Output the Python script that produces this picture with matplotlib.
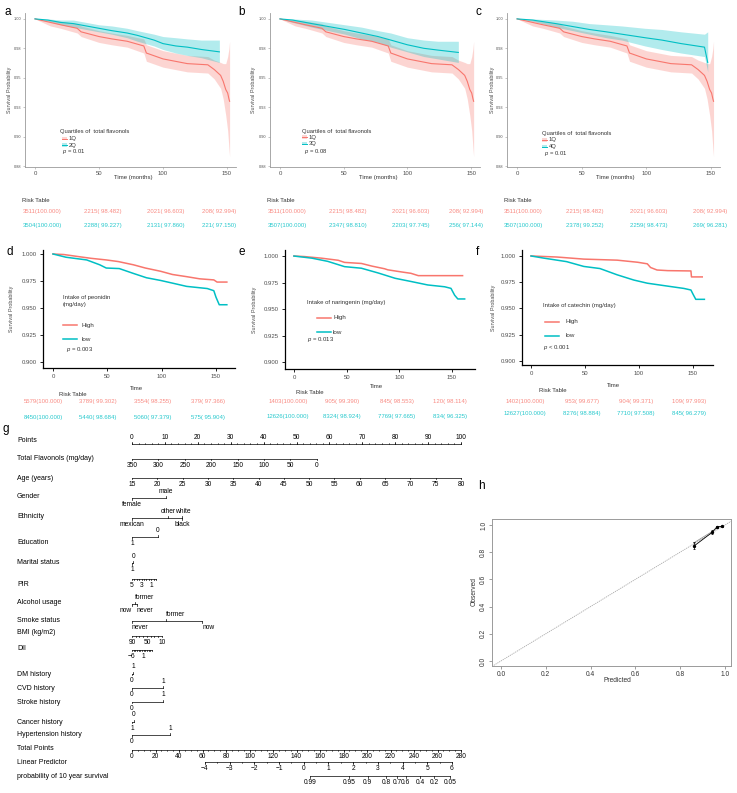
import numpy as np
import matplotlib
matplotlib.use('Agg')
import matplotlib.pyplot as plt
from matplotlib.patches import Rectangle
from matplotlib.lines import Line2D

plt.rcParams['font.family'] = ['Liberation Sans', 'DejaVu Sans']
plt.rcParams['mathtext.fontset'] = 'custom'
plt.rcParams['mathtext.rm'] = 'Liberation Sans'
plt.rcParams['mathtext.it'] = 'Liberation Sans:italic'

RED = '#F8766D'
TEAL = '#00BFC4'

# ======================= DATA =======================
# --- panels a-c : quartiles of total flavonols (1Q reference curve) ---
q1_t  = [0, 12, 20, 33, 36, 50, 60, 72, 85, 87, 100, 119, 135, 140, 145, 147, 149, 150.5, 151.5, 152]
q1_s  = [1.0, 0.997, 0.995, 0.992, 0.989, 0.985, 0.983, 0.981, 0.977, 0.971, 0.966, 0.962, 0.961, 0.957, 0.952, 0.947, 0.940, 0.937, 0.932, 0.930]
q1_hi = [1.0, 0.999, 0.998, 0.996, 0.994, 0.990, 0.988, 0.986, 0.983, 0.978, 0.973, 0.969, 0.968, 0.965, 0.963, 0.962, 0.962, 0.968, 0.975, 0.981]
q1_lo = [1.0, 0.994, 0.992, 0.988, 0.985, 0.980, 0.978, 0.976, 0.971, 0.964, 0.959, 0.955, 0.954, 0.949, 0.941, 0.932, 0.918, 0.905, 0.890, 0.883]

q2_t  = [0, 10, 20, 30, 40, 50, 60, 72, 80, 93, 100, 110, 119, 130, 144]
q2_s  = [1.0, 0.999, 0.997, 0.996, 0.994, 0.992, 0.990, 0.988, 0.986, 0.982, 0.979, 0.977, 0.976, 0.974, 0.972]
q2_hi = [1.0, 1.0, 0.999, 0.999, 0.997, 0.995, 0.994, 0.992, 0.990, 0.987, 0.985, 0.984, 0.983, 0.982, 0.982]
q2_lo = [1.0, 0.998, 0.995, 0.993, 0.991, 0.989, 0.987, 0.984, 0.981, 0.977, 0.974, 0.971, 0.969, 0.967, 0.963]

q3_t  = [0, 10, 25, 38, 51, 64, 77, 87, 100, 113, 124, 140]
q3_s  = [1.0, 0.999, 0.996, 0.9935, 0.991, 0.988, 0.985, 0.982, 0.978, 0.975, 0.9735, 0.9715]
q3_hi = [1.0, 1.0, 0.999, 0.997, 0.995, 0.993, 0.990, 0.988, 0.984, 0.982, 0.981, 0.981]
q3_lo = [1.0, 0.997, 0.993, 0.990, 0.987, 0.983, 0.980, 0.976, 0.972, 0.968, 0.966, 0.963]

q4_t  = [0, 12, 30, 43, 56, 69, 81, 99, 112, 127, 145, 147.5]
q4_s  = [1.0, 0.999, 0.996, 0.9935, 0.991, 0.989, 0.987, 0.984, 0.982, 0.979, 0.976, 0.963]
q4_hi = [1.0, 1.0, 0.999, 0.998, 0.996, 0.995, 0.994, 0.992, 0.991, 0.989, 0.987, 0.989]
q4_lo = [1.0, 0.998, 0.993, 0.990, 0.987, 0.984, 0.982, 0.977, 0.974, 0.971, 0.968, 0.955]

# risk tables (at 0, 50, 100, 150 months)
risk_q1_n = [3511, 2215, 2021, 208]
risk_q1_s = [100.000, 98.482, 96.603, 92.994]
risk_q2_n = [3504, 2288, 2131, 221]
risk_q2_s = [100.000, 99.227, 97.860, 97.150]
risk_q3_n = [3507, 2347, 2203, 256]
risk_q3_s = [100.000, 98.810, 97.745, 97.144]
risk_q4_n = [3507, 2378, 2259, 269]
risk_q4_s = [100.000, 99.252, 98.473, 96.281]

# --- panels d-f : high vs low intake ---
peo_high_t = [0, 10, 24, 35, 49, 60, 74, 85, 99, 110, 123, 135, 148, 151, 160]
peo_high_s = [1.0, 0.9995, 0.9975, 0.996, 0.9945, 0.993, 0.990, 0.987, 0.984, 0.981, 0.979, 0.977, 0.976, 0.974, 0.974]
peo_low_t  = [0, 12, 31, 43, 49, 61, 74, 86, 99, 110, 123, 142, 148, 150, 153, 160]
peo_low_s  = [1.0, 0.997, 0.9945, 0.990, 0.987, 0.9865, 0.982, 0.978, 0.9755, 0.973, 0.970, 0.968, 0.966, 0.960, 0.953, 0.953]

nar_high_t = [0, 10, 26, 42, 48, 64, 74, 86, 89, 102, 111, 118, 160]
nar_high_s = [1.0, 0.9995, 0.998, 0.996, 0.994, 0.993, 0.9905, 0.988, 0.987, 0.985, 0.9837, 0.9815, 0.9815]
nar_low_t  = [0, 17, 32, 48, 64, 80, 96, 111, 127, 143, 149, 152.5, 155.5, 162]
nar_low_s  = [1.0, 0.998, 0.995, 0.990, 0.9885, 0.984, 0.979, 0.976, 0.9727, 0.971, 0.9695, 0.963, 0.9595, 0.9595]

cat_high_t = [0, 24, 49, 80, 99, 108, 111, 117, 127, 148.5, 149, 159]
cat_high_s = [1.0, 0.999, 0.997, 0.996, 0.994, 0.9925, 0.989, 0.9866, 0.986, 0.9857, 0.980, 0.980]
cat_low_t  = [0, 11.5, 33, 49, 64, 80, 95.5, 108, 123.5, 142, 148.5, 150.5, 153, 161]
cat_low_s  = [1.0, 0.998, 0.9946, 0.990, 0.988, 0.982, 0.977, 0.974, 0.9717, 0.969, 0.9675, 0.9634, 0.9586, 0.9586]

risk_peo_high_n = [5579, 3789, 3554, 379]
risk_peo_high_s = [100.000, 99.302, 98.255, 97.366]
risk_peo_low_n  = [8450, 5440, 5060, 575]
risk_peo_low_s  = [100.000, 98.684, 97.379, 95.904]
risk_nar_high_n = [1403, 905, 845, 120]
risk_nar_high_s = [100.000, 99.390, 98.553, 98.114]
risk_nar_low_n  = [12626, 8324, 7769, 834]
risk_nar_low_s  = [100.000, 98.924, 97.665, 96.325]
risk_cat_high_n = [1402, 953, 904, 109]
risk_cat_high_s = [100.000, 99.677, 99.371, 97.993]
risk_cat_low_n  = [12627, 8276, 7710, 845]
risk_cat_low_s  = [100.000, 98.884, 97.508, 96.279]

# --- panel g : nomogram ---
points_labels = list(range(0, 101, 10))
flav_ticks = [350, 300, 250, 200, 150, 100, 50, 0]
flav_pts_end = (0.0, 56.2)          # points at 350 and at 0 mg/day
age_ticks = list(range(15, 81, 5))
age_pts_end = (0.0, 100.0)          # points at 15 and at 80 years
gender_levels = ['female', 'male']
gender_pts = [0.0, 10.3]
eth_levels = ['mexican', 'other', 'white', 'black']
eth_pts = [0.0, 11.0, 15.3, 15.2]
edu_levels = ['1', '0']
edu_pts = [0.0, 7.9]
marital_levels = ['1', '0']
marital_pts = [0.0, 0.4]
pir_ticks = [0, 0.5, 1, 1.5, 2, 2.5, 3, 3.5, 4, 4.5, 5]
pir_labels = [5, 3, 1]
pir_pts_end = (7.3, 0.0)            # points at PIR 0 and PIR 5
alc_levels = ['now', 'former', 'never']
alc_pts = [0.0, 0.9, 1.5]
smoke_levels = ['never', 'former', 'now']
smoke_pts = [0.0, 10.3, 21.3]
bmi_ticks = [10, 20, 30, 40, 50, 60, 70, 80, 90]
bmi_labels = [90, 50, 10]
bmi_pts_end = (9.1, 0.0)            # points at BMI 10 and 90
dii_ticks = list(range(-6, 7))
dii_labels = [-6, 1]
dii_pts_end = (0.0, 6.1)            # points at DII -6 and 6
dm_levels = ['0', '1']
dm_pts = [0.0, 0.3]
cvd_levels = ['0', '1']
cvd_pts = [0.0, 9.4]
stroke_levels = ['0', '1']
stroke_pts = [0.0, 9.4]
cancer_levels = ['1', '0']
cancer_pts = [0.0, 0.5]
htn_levels = ['0', '1']
htn_pts = [0.0, 11.6]
total_points_labels = list(range(0, 281, 20))
total_points_max = 280
lp_ticks = [-4, -3, -2, -1, 0, 1, 2, 3, 4, 5, 6]
lp_tp_end = (62.1, 272.3)           # total points at LP -4 and LP 6
prob_labels = ['0.99', '0.95', '0.9', '0.8', '0.7', '0.6', '0.4', '0.2', '0.05']
prob_lp = [0.24, 1.85, 2.59, 3.33, 3.78, 4.12, 4.72, 5.28, 5.93]

# --- panel h : calibration ---
cal_pred = [0.860, 0.943, 0.965, 0.985]
cal_obs  = [0.843, 0.946, 0.985, 0.990]
cal_lo   = [0.824, 0.931, 0.978, 0.985]
cal_hi   = [0.872, 0.963, 0.992, 0.995]
cal_bc   = [0.868, 0.952, 0.987, 0.991]

# ======================= FIGURE =======================
W, H = 737, 793
fig = plt.figure(figsize=(W / 100, H / 100), dpi=100)


def add_ax(l, r, t, b):
    return fig.add_axes([l / W, 1 - b / H, (r - l) / W, (b - t) / H])


def ftext(x, y, s, **kw):
    kw.setdefault('va', 'center')
    fig.text(x / W, 1 - y / H, s, **kw)


def fline(x0, x1, y, col, lw):
    fig.add_artist(Line2D([x0 / W, x1 / W], [1 - y / H, 1 - y / H],
                          transform=fig.transFigure, color=col, lw=lw))


def frect(x, y, w, h, col, alpha):
    fig.add_artist(Rectangle((x / W, 1 - (y + h / 2) / H), w / W, h / H,
                             transform=fig.transFigure, color=col, alpha=alpha, lw=0))


def fmt_risk(n, s):
    return [f"{a}({b:7.3f})" for a, b in zip(n, s)]


GRAY_TXT = '#4D4D4D'


def km_top(ax, groups):
    for t, s, lo, hi, col in groups:
        ax.fill_between(t, lo, hi, color=col, alpha=0.3, lw=0)
    for t, s, lo, hi, col in groups:
        ax.plot(t, s, color=col, lw=0.8)
    ax.set_xlim(-7.8, 157)
    ax.set_ylim(0.8742, 1.005)
    ax.set_xticks([0, 50, 100, 150])
    ax.set_yticks([0.875, 0.9, 0.925, 0.95, 0.975, 1.0])
    ax.set_yticklabels(['0.88', '0.90', '0.93', '0.95', '0.98', '1.00'])
    for sp in ['top', 'right']:
        ax.spines[sp].set_visible(False)
    for sp in ['left', 'bottom']:
        ax.spines[sp].set_color('#9A9A9A')
        ax.spines[sp].set_linewidth(0.6)
    ax.tick_params(axis='y', labelsize=2.8, labelcolor=GRAY_TXT, color='#9A9A9A',
                   length=1.5, width=0.4, pad=1)
    ax.tick_params(axis='x', labelsize=4.3, labelcolor=GRAY_TXT, color='#9A9A9A',
                   length=1.5, width=0.4, pad=1.5)


def km_bot(ax, groups, xlim, ylim):
    for t, s, col in groups:
        ax.plot(t, s, color=col, lw=1.1)
    ax.set_xlim(*xlim)
    ax.set_ylim(*ylim)
    ax.set_xticks([0, 50, 100, 150])
    ax.set_yticks([0.9, 0.925, 0.95, 0.975, 1.0])
    ax.set_yticklabels(['0.900', '0.925', '0.950', '0.975', '1.000'])
    for sp in ['top', 'right']:
        ax.spines[sp].set_visible(False)
    for sp in ['left', 'bottom']:
        ax.spines[sp].set_color('black')
        ax.spines[sp].set_linewidth(0.9)
    ax.tick_params(labelsize=4.3, labelcolor=GRAY_TXT, color='black',
                   length=2.5, width=0.6, pad=2)


# ---------- panels a, b, c ----------
top_specs = [
    ('a', (25, 236), 8, q2_t, q2_s, q2_lo, q2_hi, '2Q', '0.01', risk_q2_n, risk_q2_s,
     [42, 103, 166, 219], 10, 133, (60, 132, 138.5, 145, 152, 62), 22),
    ('b', (270, 480), 242, q3_t, q3_s, q3_lo, q3_hi, '3Q', '0.08', risk_q3_n, risk_q3_s,
     [287, 348, 411, 466], 253, 378, (302, 131, 137, 143.5, 151, 302), 267),
    ('c', (507, 720), 478, q4_t, q4_s, q4_lo, q4_hi, '4Q', '0.01', risk_q4_n, risk_q4_s,
     [523, 585, 649, 710], 493, 615, (542, 133, 140, 146.5, 153, 542), 504),
]
for (let, (l, r), xlet, t2, s2, lo2, hi2, lab2, pv, rn, rs, cols, ylx, tlx, leg, rtx) in top_specs:
    ax = add_ax(l, r, 13, 167)
    km_top(ax, [(q1_t, q1_s, q1_lo, q1_hi, RED), (t2, s2, lo2, hi2, TEAL)])
    ftext(xlet, 12, let, fontsize=8.5, ha='center')
    ftext(ylx, 90, 'Survival Probability', fontsize=3.9, rotation=90, ha='center', color=GRAY_TXT)
    ftext(tlx, 178, 'Time (months)', fontsize=4.3, ha='center', color='#333333')
    lx, yt, y1, y2, yp, kx = leg
    ftext(lx, yt, 'Quartiles of  total flavonols', fontsize=4.2, color='#333333')
    for yy, col, lab in [(y1, RED, '1Q'), (y2, TEAL, lab2)]:
        frect(kx, yy, 5, 3.2, col, 0.3)
        fline(kx, kx + 5, yy, col, 0.7)
        ftext(kx + 7, yy, lab, fontsize=4.2, color='#333333')
    ftext(lx + 2, yp, r'$\it{p}$ = ' + pv, fontsize=4.2, color='#333333')
    ftext(rtx, 200, 'Risk Table', fontsize=4.3, color='#333333')
    for x, s in zip(cols, fmt_risk(risk_q1_n, risk_q1_s)):
        ftext(x, 211, s, fontsize=4.3, ha='center', color=RED, alpha=0.85)
    for x, s in zip(cols, fmt_risk(rn, rs)):
        ftext(x, 225, s, fontsize=4.3, ha='center', color=TEAL, alpha=0.85)

# ---------- panels d, e, f ----------
bot_specs = [
    ('d', (43, 235, 250, 368), (-9.2, 167.5), (0.8944, 1.0037), 10,
     peo_high_t, peo_high_s, peo_low_t, peo_low_s, 'Intake of peonidin\n(mg/day)', 'p_eq',
     '0.003', (63, 301, 325, 339, 63, 82, 66, 349), 12, 136, 388,
     (73, 394, 402, 418), [43, 98, 153, 208],
     risk_peo_high_n, risk_peo_high_s, risk_peo_low_n, risk_peo_low_s),
    ('e', (285, 475, 250, 369), (-8.5, 171.8), (0.8934, 1.0057), 242,
     nar_high_t, nar_high_s, nar_low_t, nar_low_s, 'Intake of naringenin (mg/day)', 'p_eq',
     '0.013', (307, 302, 318, 332.5, 317, 333, 307, 340), 255, 376, 387,
     (310, 393, 402, 417), [288, 342, 397, 450],
     risk_nar_high_n, risk_nar_high_s, risk_nar_low_n, risk_nar_low_s),
    ('f', (522, 713, 250, 365), (-8.4, 169), (0.8959, 1.0057), 477,
     cat_high_t, cat_high_s, cat_low_t, cat_low_s, 'Intake of catechin (mg/day)', 'p_lt',
     '0.001', (543, 306, 322, 336, 545, 566, 543, 348), 494, 613, 386,
     (553, 391, 401, 413), [525, 582, 636, 689],
     risk_cat_high_n, risk_cat_high_s, risk_cat_low_n, risk_cat_low_s),
]
for (let, (l, r, t, b), xl, yl, xlet, ht, hs, lt, ls_, title, pk, pv, leg, ylx, tlx, tly,
     rt, cols, hn, hsr, ln, lsr) in bot_specs:
    ax = add_ax(l, r, t, b)
    km_bot(ax, [(ht, hs, RED), (lt, ls_, TEAL)], xl, yl)
    ftext(xlet, 252, let, fontsize=8.5, ha='center')
    ftext(ylx, (t + b) / 2, 'Survival Probability', fontsize=3.9, rotation=90, ha='center', color=GRAY_TXT)
    ftext(tlx, tly, 'Time', fontsize=4.3, ha='center', color='#333333')
    tx, ty, yh, ylo, kx, ktx, px_, py_ = leg
    ftext(tx, ty, title, fontsize=4.3, color='#333333', linespacing=1.5)
    fline(kx, kx + 14, yh, RED, 1.1)
    ftext(ktx, yh, 'High', fontsize=4.5, color='#333333')
    fline(kx, kx + 14, ylo, TEAL, 1.1)
    ftext(ktx, ylo, 'low', fontsize=4.5, color='#333333')
    sym = '=' if pk == 'p_eq' else '<'
    ftext(px_, py_, r'$\it{p}$ ' + sym + ' ' + pv, fontsize=4.3, color='#333333')
    rx, ry, ry1, ry2 = rt
    ftext(rx, ry, 'Risk Table', fontsize=4.3, ha='center', color='#333333')
    for x, s in zip(cols, fmt_risk(hn, hsr)):
        ftext(x, ry1, s, fontsize=4.3, ha='center', color=RED, alpha=0.85)
    for x, s in zip(cols, fmt_risk(ln, lsr)):
        ftext(x, ry2, s, fontsize=4.3, ha='center', color=TEAL, alpha=0.85)

# ---------- panel g : nomogram ----------
X0, SC = 132.0, 3.29


def nx(p):
    return (p - X0) / SC


gax = add_ax(0, W, 425, H)
gax.set_xlim(nx(0), nx(W))
gax.set_ylim(H, 425)
gax.axis('off')
LW = 0.5
FS_LAB = 5.0
FS_TK = 4.8


def lin(v, v0, v1, p0, p1):
    return p0 + (np.asarray(v, float) - v0) * (p1 - p0) / (v1 - v0)


def row_label(y, s):
    gax.text(nx(17), y, s, fontsize=FS_LAB, va='center', ha='left')


def cont_axis(y, tick_pts, lab_pts, lab_txt, side, minor_pts=None, tl=1.8):
    tick_pts = list(tick_pts)
    allp = tick_pts + (list(minor_pts) if minor_pts is not None else [])
    gax.plot([min(allp), max(allp)], [y, y], color='k', lw=LW)
    d = -tl if side == 'a' else tl
    for p in tick_pts:
        gax.plot([p, p], [y, y + d], color='k', lw=LW)
    if minor_pts is not None:
        for p in minor_pts:
            gax.plot([p, p], [y, y + d * 0.6], color='k', lw=LW * 0.8)
    off = -6.5 if side == 'a' else 6.5
    for p, s in zip(lab_pts, lab_txt):
        gax.text(p, y + off, s, fontsize=FS_TK, ha='center', va='center')


def cat_axis(y, levels, pts, sides, has=None):
    gax.plot([min(pts), max(pts)], [y, y], color='k', lw=LW)
    for i, (lev, p, sd) in enumerate(zip(levels, pts, sides)):
        d = -1.8 if sd == 'a' else 1.8
        gax.plot([p, p], [y, y + d], color='k', lw=LW)
        ha = has[i] if has else 'center'
        gax.text(p, y + (-6.5 if sd == 'a' else 6.5), lev, fontsize=FS_TK, ha=ha, va='center')


# Points
row_label(441, 'Points')
cont_axis(444, points_labels, points_labels, [str(v) for v in points_labels], 'a',
          minor_pts=np.arange(0, 101, 2))
# Total flavonols
row_label(459, 'Total Flavonols (mg/day)')
fp = lin(flav_ticks, 350, 0, *flav_pts_end)
cont_axis(459, fp, fp, [str(v) for v in flav_ticks], 'b', tl=1.2)
# Age
row_label(478, 'Age (years)')
ap = lin(age_ticks, 15, 80, *age_pts_end)
cont_axis(478, ap, ap, [str(v) for v in age_ticks], 'b', tl=1.2)
# Gender
row_label(497, 'Gender')
cat_axis(498, gender_levels, gender_pts, ['b', 'a'])
# Ethnicity
row_label(517, 'Ethnicity')
cat_axis(518, eth_levels, eth_pts, ['b', 'a', 'a', 'b'])
# Education
row_label(543, 'Education')
cat_axis(537, edu_levels, edu_pts, ['b', 'a'])
# Marital
row_label(563, 'Marital status')
cat_axis(563, marital_levels, marital_pts, ['b', 'a'])
# PIR
row_label(585, 'PIR')
pp = lin(pir_ticks, 0, 5, *pir_pts_end)
plp = lin(pir_labels, 0, 5, *pir_pts_end)
cont_axis(579, pp, plp, [str(v) for v in pir_labels], 'b', tl=1.2)
# Alcohol
row_label(603, 'Alcohol usage')
cat_axis(604, alc_levels, alc_pts, ['b', 'a', 'b'], has=['right', 'left', 'left'])
# Smoke
row_label(621, 'Smoke status')
cat_axis(621, smoke_levels, smoke_pts, ['b', 'a', 'b'], has=['left', 'left', 'left'])
# BMI
row_label(633, 'BMI (kg/m2)')
bp = lin(bmi_ticks, 10, 90, *bmi_pts_end)
blp = lin(bmi_labels, 10, 90, *bmi_pts_end)
cont_axis(636, bp, blp, [str(v) for v in bmi_labels], 'b', tl=1.2)
# DII
row_label(648, 'DII')
dp = lin(dii_ticks, -6, 6, *dii_pts_end)
dlp = lin(dii_labels, -6, 6, *dii_pts_end)
cont_axis(650, dp, dlp, [str(v).replace('-', '\u2212') for v in dii_labels], 'b', tl=1.2)
# DM
row_label(675, 'DM history')
cat_axis(673.5, dm_levels, dm_pts, ['b', 'a'])
# CVD
row_label(688, 'CVD history')
cat_axis(688, cvd_levels, cvd_pts, ['b', 'a'])
# Stroke
row_label(702, 'Stroke history')
cat_axis(701.5, stroke_levels, stroke_pts, ['b', 'a'])
# Cancer
row_label(722, 'Cancer history')
cat_axis(721.5, cancer_levels, cancer_pts, ['b', 'a'])
# Hypertension
row_label(735, 'Hypertension history')
cat_axis(735, htn_levels, htn_pts, ['b', 'a'])
# Total points
row_label(749, 'Total Points')
tpp = np.array(total_points_labels) * 100.0 / total_points_max
tpm = np.arange(0, total_points_max + 1, 5) * 100.0 / total_points_max
cont_axis(750, tpp, tpp, [str(v) for v in total_points_labels], 'b', minor_pts=tpm, tl=1.6)
# Linear predictor
row_label(762, 'Linear Predictor')
lpp = lin(lp_ticks, -4, 6, *lp_tp_end) * 100.0 / total_points_max
lpm = lin(np.arange(-4, 6.01, 0.5), -4, 6, *lp_tp_end) * 100.0 / total_points_max
cont_axis(762, lpp, lpp, [str(v).replace('-', '\u2212') for v in lp_ticks], 'b', minor_pts=lpm, tl=1.6)
# probability
row_label(776, 'probability of 10 year survival')
prp = lin(prob_lp, -4, 6, *lp_tp_end) * 100.0 / total_points_max
cont_axis(776, prp, prp, prob_labels, 'b', tl=1.6)

ftext(6, 429, 'g', fontsize=8.5, ha='center')

# ---------- panel h : calibration ----------
axh = add_ax(492, 731, 519, 666)
axh.plot([-0.04, 1.03], [-0.04, 1.03], color='#A8A8A8', lw=0.6, ls=(0, (1.5, 1)))
axh.plot(cal_pred, cal_bc, color='#8A8A8A', lw=0.5, marker='x', ms=1.6, mew=0.4)
axh.errorbar(cal_pred, cal_obs, yerr=[np.subtract(cal_obs, cal_lo), np.subtract(cal_hi, cal_obs)],
             color='black', lw=0.6, marker='o', ms=1.4, capsize=1.0, elinewidth=0.5, capthick=0.5)
axh.set_xlim(-0.04, 1.027)
axh.set_ylim(-0.037, 1.044)
ticks = [0.0, 0.2, 0.4, 0.6, 0.8, 1.0]
axh.set_xticks(ticks)
axh.set_yticks(ticks)
axh.set_xticklabels([f'{v:.1f}' for v in ticks])
axh.set_yticklabels([f'{v:.1f}' for v in ticks], rotation=90, va='center')
for sp in axh.spines.values():
    sp.set_color('#9A9A9A')
    sp.set_linewidth(0.7)
axh.tick_params(labelsize=4.8, color='#777777', length=2, width=0.5, pad=1.5, labelcolor='#333333')
ftext(474, 592, 'Observed', fontsize=4.8, rotation=90, ha='center', color='#333333')
ftext(617, 681, 'Predicted', fontsize=4.8, ha='center', color='#333333')
ftext(481, 486, 'h', fontsize=8.5, ha='center')

fig.savefig('out.png', dpi=100)
